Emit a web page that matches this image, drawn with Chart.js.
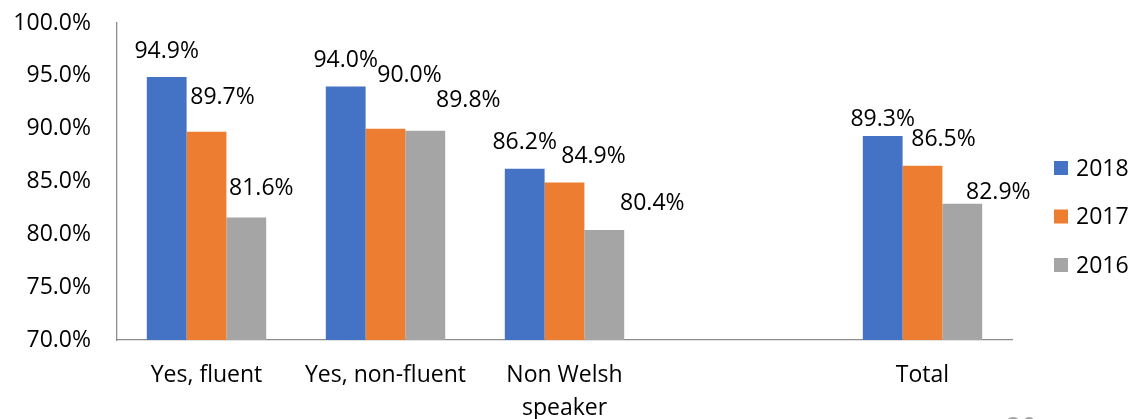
<!DOCTYPE html>
<html>
<head>
<meta charset="utf-8">
<script src="https://cdn.jsdelivr.net/npm/chart.js@4"></script>
<style>
  body { margin: 0; background: #fff; }
  canvas { display: block; }
</style>
</head>
<body>
<canvas id="myChart" width="1131" height="419"></canvas>
<script>
const categories = ['Yes, fluent', 'Yes, non-fluent', ['Non Welsh', 'speaker'], '', 'Total'];
const years = ['2018', '2017', '2016'];
const values2018 = [94.9, 94.0, 86.2, null, 89.3];
const values2017 = [89.7, 90.0, 84.9, null, 86.5];
const values2016 = [81.6, 89.8, 80.4, null, 82.9];
const yTicks = [70, 75, 80, 85, 90, 95, 100];

const colors = ['#4472C4', '#ED7D31', '#A5A5A5'];
const fontFamily = '"Open Sans", "Noto Sans", sans-serif';

// label nudges (dx, dy above bar top) copied from the way Excel placed them
const labelOffsets = [
    [[0, 26], [0, 27], [0, 27], null, [0, 18]],
    [[16, 35], [24, 54], [29, 27], null, [21, 27]],
    [[15, 30], [43, 31], [48, 28], null, [36, 12]]
];

const dataLabels = {
    id: 'dataLabels',
    afterDatasetsDraw(chart) {
        const ctx = chart.ctx;
        ctx.save();
        ctx.font = '23px ' + fontFamily;
        ctx.fillStyle = '#000';
        ctx.textAlign = 'center';
        ctx.textBaseline = 'middle';
        chart.data.datasets.forEach((ds, i) => {
            const meta = chart.getDatasetMeta(i);
            meta.data.forEach((bar, j) => {
                const v = ds.data[j];
                if (v === null) return;
                const off = labelOffsets[i][j];
                ctx.fillText(v.toFixed(1) + '%', bar.x + off[0], bar.y - off[1] + 1);
            });
        });
        ctx.restore();
    }
};

const sideLegend = {
    id: 'sideLegend',
    afterDraw(chart) {
        const ctx = chart.ctx;
        ctx.save();
        ctx.font = '23px ' + fontFamily;
        ctx.textBaseline = 'middle';
        ctx.textAlign = 'left';
        chart.data.datasets.forEach((ds, i) => {
            const y = 168 + i * 48.5;
            ctx.fillStyle = ds.backgroundColor;
            ctx.fillRect(1054, y - 7, 14, 14);
            ctx.fillStyle = '#000';
            ctx.fillText(ds.label, 1076, y + 1);
        });
        // slide page number, cut off at the bottom edge
        ctx.fillStyle = '#a6a6a6';
        ctx.font = '27px ' + fontFamily;
        ctx.textBaseline = 'alphabetic';
        ctx.fillText('20', 1006, 437);
        ctx.restore();
    }
};

const ctx = document.getElementById('myChart').getContext('2d');
new Chart(ctx, {
    type: 'bar',
    data: {
        labels: categories,
        datasets: [
            { label: years[0], data: values2018, backgroundColor: colors[0] },
            { label: years[1], data: values2017, backgroundColor: colors[1] },
            { label: years[2], data: values2016, backgroundColor: colors[2] }
        ]
    },
    options: {
        responsive: false,
        animation: false,
        layout: { padding: { top: 23, right: 119, bottom: 0, left: 0 } },
        datasets: { bar: { categoryPercentage: 0.667, barPercentage: 1 } },
        plugins: {
            legend: { display: false },
            tooltip: { enabled: false }
        },
        scales: {
            x: {
                grid: { display: false, drawTicks: false },
                border: { display: true, color: '#8c8c8c', width: 1.3 },
                ticks: {
                    color: '#000',
                    padding: 19,
                    maxRotation: 0,
                    autoSkip: false,
                    font: { family: fontFamily, size: 23, lineHeight: 1.43 }
                },
                afterFit(scale) { scale.height = 79; }
            },
            y: {
                min: 70,
                max: 100,
                grid: { display: false, drawTicks: false },
                border: { display: true, color: '#8c8c8c', width: 1.3 },
                afterBuildTicks(scale) { scale.ticks = yTicks.map(v => ({ value: v })); },
                ticks: {
                    color: '#000',
                    padding: 26,
                    callback: v => v.toFixed(1) + '%',
                    font: { family: fontFamily, size: 23, lineHeight: 1.2 }
                },
                afterFit(scale) {
                    scale.width = 117;
                    scale.paddingTop = 0;
                    scale.paddingBottom = 0;
                }
            }
        }
    },
    plugins: [dataLabels, sideLegend]
});
</script>
</body>
</html>
